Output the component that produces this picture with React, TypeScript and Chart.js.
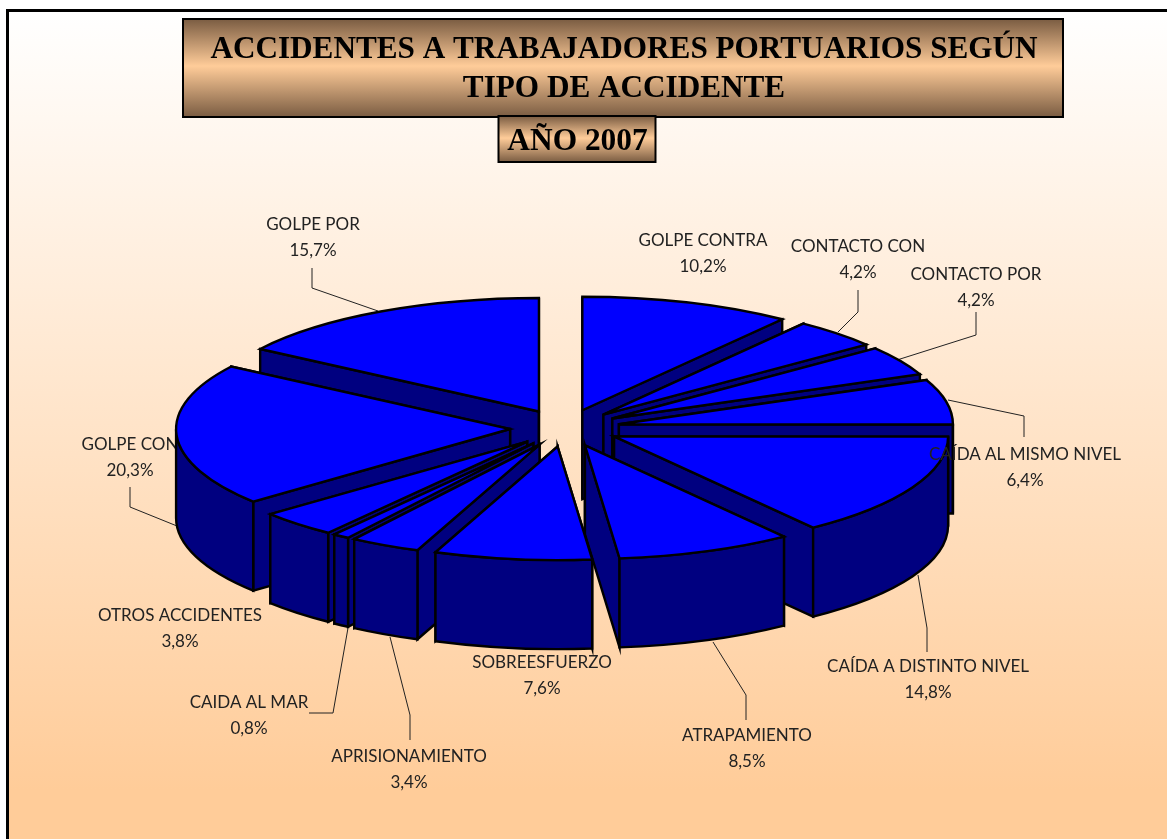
import React, { useEffect, useRef } from "react";
import { Chart, registerables } from "chart.js";

Chart.register(...registerables);

const categories = [
  "GOLPE CONTRA", "CONTACTO CON", "CONTACTO POR", "CAÍDA AL MISMO NIVEL", "CAÍDA A DISTINTO NIVEL",
  "ATRAPAMIENTO", "SOBREESFUERZO", "APRISIONAMIENTO", "CAIDA AL MAR", "OTROS ACCIDENTES", "GOLPE CON", "GOLPE POR",
];
const shares = [10.2, 4.2, 4.2, 6.4, 14.8, 8.5, 7.6, 3.4, 0.8, 3.8, 20.3, 15.7];
const titleLines = ["ACCIDENTES A TRABAJADORES PORTUARIOS SEGÚN", "TIPO DE ACCIDENTE"];
const yearLabel = "AÑO 2007";
// The one callout whose text sits behind the pie in the picture.
const labelsBehindPie = ["GOLPE CON"];

// Layout of the callouts, by category order: centre of the label and leader line.
const labelCentres = [
  [703, 240], [858, 246], [976, 274], [1025, 454], [928, 666], [747, 735],
  [542, 662], [409, 756], [249, 702], [180, 615], [130, 444], [313, 224],
];
const leaders: number[][][] = [
  [], [[858, 290], [858, 312], [838, 332]], [[976, 312], [976, 335], [897, 360]],
  [[1024, 437], [1024, 416], [948, 400]], [[927, 652], [927, 628], [918, 575]],
  [[746, 720], [746, 695], [713, 642]], [], [[410, 740], [410, 715], [390, 637]],
  [[309, 713], [333, 713], [348, 628]], [], [[130, 487], [130, 507], [177, 526]],
  [[312, 268], [312, 288], [378, 311]],
];

const TILT = 0.34;
const DEPTH = 89;
const EXPLODE = 55;
const TOP = "#0000FF";
const SIDE = "#000080";
const EDGE = "#000000";
const LABEL_FONT = '17px "Lato", sans-serif';

function box(ctx: CanvasRenderingContext2D, x: number, y: number, w: number, h: number) {
  const g = ctx.createLinearGradient(0, y, 0, y + h);
  g.addColorStop(0, "#7A5C42");
  g.addColorStop(0.48, "#FFCC99");
  g.addColorStop(1, "#7A5C42");
  ctx.fillStyle = g;
  ctx.fillRect(x, y, w, h);
  ctx.strokeStyle = "#000";
  ctx.lineWidth = 2;
  ctx.strokeRect(x, y, w, h);
}

function drawLabels(ctx: CanvasRenderingContext2D, behind: boolean) {
  ctx.textAlign = "center";
  ctx.textBaseline = "alphabetic";
  ctx.fillStyle = "#222";
  ctx.font = LABEL_FONT;
  categories.forEach((name, i) => {
    if (labelsBehindPie.includes(name) !== behind) return;
    const [x, y] = labelCentres[i];
    ctx.fillText(name, x, y + 6);
    ctx.fillText(shares[i].toFixed(1).replace(".", ",") + "%", x, y + 32);
  });
}

const backdropPlugin = {
  id: "backdrop",
  beforeDraw(chart: any) {
    const ctx: CanvasRenderingContext2D = chart.ctx;
    ctx.save();
    ctx.fillStyle = "#fff";
    ctx.fillRect(0, 0, 1167, 839);
    const g = ctx.createLinearGradient(0, 11, 0, 790);
    g.addColorStop(0, "#FFFFFF");
    g.addColorStop(1, "#FFCC99");
    ctx.fillStyle = g;
    ctx.fillRect(9, 12, 1158, 827);
    ctx.fillStyle = "#000";
    ctx.fillRect(6, 9, 1161, 3);
    ctx.fillRect(6, 9, 3, 830);

    drawLabels(ctx, true);
    ctx.strokeStyle = "#222";
    ctx.lineWidth = 1;
    leaders.forEach((pts) => {
      if (!pts.length) return;
      ctx.beginPath();
      pts.forEach(([x, y], k) => (k ? ctx.lineTo(x, y) : ctx.moveTo(x, y)));
      ctx.stroke();
    });
    ctx.restore();
  },
  afterDraw(chart: any) {
    const ctx: CanvasRenderingContext2D = chart.ctx;
    ctx.save();
    drawLabels(ctx, false);
    box(ctx, 183, 19, 880, 98);
    box(ctx, 498.5, 116, 157, 46);
    ctx.fillStyle = "#000";
    ctx.textAlign = "center";
    ctx.textBaseline = "alphabetic";
    ctx.font = 'bold 31.2px "Liberation Serif", serif';
    ctx.fillText(titleLines[0], 624, 58);
    ctx.fillText(titleLines[1], 624, 97);
    ctx.font = 'bold 31.4px "Liberation Serif", serif';
    ctx.fillText(yearLabel, 577.5, 150);
    ctx.restore();
  },
};

const prismPlugin = {
  id: "prism",
  beforeDatasetDraw(chart: any, args: any) {
    const ctx: CanvasRenderingContext2D = chart.ctx;
    const arcs = args.meta.data as any[];
    const order = arcs
      .map((a, i) => ({ a, i, mid: (a.startAngle + a.endAngle) / 2 }))
      .sort((p, q) => Math.sin(p.mid) - Math.sin(q.mid));

    for (const { a, mid } of order) {
      const r = a.outerRadius;
      const cx = a.x + Math.cos(mid) * EXPLODE;
      const cy = a.y + Math.sin(mid) * EXPLODE * TILT;
      const px = (t: number) => cx + Math.cos(t) * r;
      const py = (t: number) => cy + Math.sin(t) * r * TILT;
      const paint = (color: string) => {
        ctx.fillStyle = color;
        ctx.fill();
        ctx.strokeStyle = EDGE;
        ctx.lineWidth = 2.4;
        ctx.lineJoin = "miter";
        ctx.stroke();
      };
      const wall = (t: number) => {
        ctx.beginPath();
        ctx.moveTo(cx, cy);
        ctx.lineTo(px(t), py(t));
        ctx.lineTo(px(t), py(t) + DEPTH);
        ctx.lineTo(cx, cy + DEPTH);
        ctx.closePath();
        paint(SIDE);
      };
      const startFront = -Math.cos(a.startAngle) > 0;
      const endFront = Math.cos(a.endAngle) > 0;
      if (!startFront) wall(a.startAngle);
      if (!endFront) wall(a.endAngle);
      if (startFront) wall(a.startAngle);
      if (endFront) wall(a.endAngle);

      const lo = Math.max(a.startAngle, 0);
      const hi = Math.min(a.endAngle, Math.PI);
      if (hi > lo) {
        ctx.beginPath();
        ctx.ellipse(cx, cy, r, r * TILT, 0, lo, hi);
        ctx.ellipse(cx, cy + DEPTH, r, r * TILT, 0, hi, lo, true);
        ctx.closePath();
        paint(SIDE);
      }

      // Top face: the library's own arc element, flattened by the tilt.
      ctx.save();
      ctx.translate(cx, cy);
      ctx.scale(1, TILT);
      ctx.translate(-a.x, -a.y);
      a.draw(ctx, chart.chartArea);
      ctx.restore();

      ctx.beginPath();
      ctx.moveTo(cx, cy);
      ctx.ellipse(cx, cy, r, r * TILT, 0, a.startAngle, a.endAngle);
      ctx.closePath();
      ctx.strokeStyle = EDGE;
      ctx.lineWidth = 2.4;
      ctx.stroke();
    }
    return false;
  },
};

export default function App() {
  const ref = useRef<HTMLCanvasElement>(null);
  useEffect(() => {
    const chart = new Chart(ref.current!, {
      type: "pie",
      data: {
        labels: categories,
        datasets: [{ data: shares, backgroundColor: TOP, borderWidth: 0, hoverOffset: 0 }],
      },
      options: {
        animation: false,
        responsive: false,
        radius: 334,
        layout: { padding: { top: 17, right: 37 } },
        plugins: { legend: { display: false }, tooltip: { enabled: false }, title: { display: false } },
      },
      plugins: [backdropPlugin, prismPlugin],
    } as any);
    return () => chart.destroy();
  }, []);
  return (
    <div style={{ position: "absolute", left: 0, top: 0, width: 1167, height: 839 }}>
      <canvas ref={ref} width={1167} height={839} style={{ display: "block" }} />
    </div>
  );
}
